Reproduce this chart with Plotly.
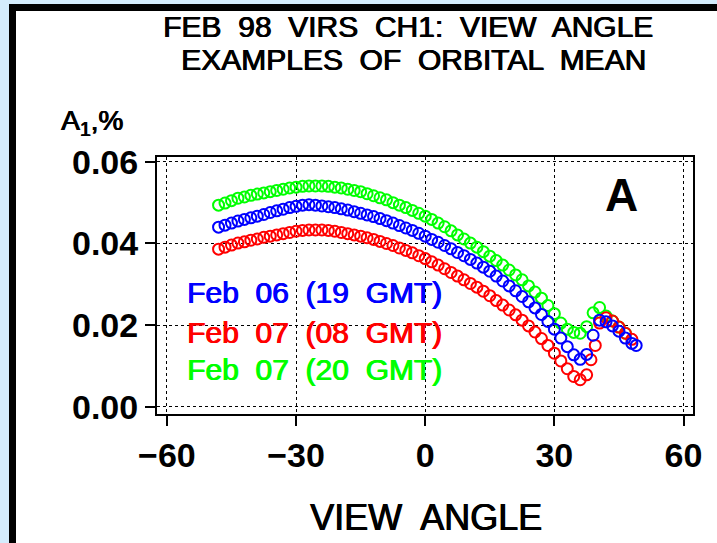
import plotly.graph_objects as go

# ---- data ----
angle_main = [-48, -46.5, -45, -43.5, -42, -40.5, -39, -37.5, -36, -34.5, -33, -31.5,
              -30, -28.5, -27, -25.5, -24, -22.5, -21, -19.5, -18, -16.5, -15, -13.5,
              -12, -10.5, -9, -7.5, -6, -4.5, -3, -1.5, 0, 1.5, 3, 4.5, 6, 7.5, 9, 10.5,
              12, 13.5, 15, 16.5, 18, 19.5, 21, 22.5, 24, 25.5, 27, 28.5, 30, 31.5, 33,
              34.5, 36]

green_main = [0.0494, 0.0499, 0.0505, 0.0511, 0.0514, 0.0518, 0.0521, 0.0524, 0.0527, 0.0530,
              0.0533, 0.0536, 0.0538, 0.0540, 0.0541, 0.0541, 0.0541, 0.0540, 0.0538, 0.0536,
              0.0533, 0.0530, 0.0527, 0.0522, 0.0517, 0.0512, 0.0507, 0.0500, 0.0494, 0.0488,
              0.0481, 0.0474, 0.0467, 0.0459, 0.0450, 0.0441, 0.0431, 0.0421, 0.0411, 0.0401,
              0.0391, 0.0380, 0.0369, 0.0358, 0.0347, 0.0335, 0.0323, 0.0311, 0.0296, 0.0281,
              0.0266, 0.0248, 0.0228, 0.0205, 0.0190, 0.0182, 0.0180]
green_tail_angle = [37.5, 39, 40.5, 42, 43.5, 45, 46.5]
green_tail = [0.0196, 0.0230, 0.0243, 0.0222, 0.0210, 0.0195, 0.0180]

blue_main = [0.0440, 0.0445, 0.0450, 0.0455, 0.0459, 0.0463, 0.0467, 0.0471, 0.0476, 0.0480,
             0.0484, 0.0488, 0.0491, 0.0494, 0.0495, 0.0494, 0.0492, 0.0490, 0.0488, 0.0485,
             0.0482, 0.0478, 0.0474, 0.0470, 0.0466, 0.0461, 0.0456, 0.0450, 0.0444, 0.0438,
             0.0432, 0.0425, 0.0418, 0.0410, 0.0403, 0.0395, 0.0387, 0.0378, 0.0370, 0.0361,
             0.0352, 0.0342, 0.0332, 0.0320, 0.0308, 0.0296, 0.0284, 0.0270, 0.0257, 0.0242,
             0.0226, 0.0209, 0.0190, 0.0168, 0.0147, 0.0127, 0.0116]
blue_tail_angle = [37.5, 39, 40.5, 42, 43.5, 45, 46.5, 48, 49]
blue_tail = [0.0128, 0.0175, 0.0212, 0.0208, 0.0198, 0.0185, 0.0168, 0.0155, 0.0150]

red_main = [0.0386, 0.0391, 0.0396, 0.0401, 0.0404, 0.0408, 0.0411, 0.0415, 0.0418, 0.0421,
            0.0424, 0.0427, 0.0430, 0.0432, 0.0433, 0.0433, 0.0433, 0.0432, 0.0430, 0.0427,
            0.0424, 0.0421, 0.0418, 0.0414, 0.0410, 0.0405, 0.0400, 0.0395, 0.0389, 0.0383,
            0.0377, 0.0370, 0.0363, 0.0355, 0.0347, 0.0338, 0.0329, 0.0320, 0.0311, 0.0302,
            0.0293, 0.0283, 0.0272, 0.0260, 0.0249, 0.0237, 0.0225, 0.0212, 0.0198, 0.0183,
            0.0167, 0.0150, 0.0131, 0.0112, 0.0093, 0.0074, 0.0066]
red_tail_angle = [37.5, 38.5, 39.5, 40.5, 42, 43.5, 45, 46.5, 48]
red_tail = [0.0078, 0.0115, 0.0150, 0.0205, 0.0218, 0.0210, 0.0195, 0.0180, 0.0165]

series_names = ["Feb  06  (19  GMT)", "Feb  07  (08  GMT)", "Feb  07  (20  GMT)"]
series_colors = ["#0000ff", "#ff0000", "#00ff00"]
legend_y = [0.0279, 0.0183, 0.0090]

x_ticks = [-60, -30, 0, 30, 60]
x_ticktext = ["\u221260", "\u221230", "0", "30", "60"]
y_ticks = [0.00, 0.02, 0.04, 0.06]
y_ticktext = ["0.00", "0.02", "0.04", "0.06"]

title_lines = ["FEB  98  VIRS  CH1:  VIEW  ANGLE", "EXAMPLES  OF  ORBITAL  MEAN"]

# ---- figure ----
fig = go.Figure()

draw = [
    (angle_main + green_tail_angle, green_main + green_tail, series_colors[2], series_names[2]),
    (angle_main + red_tail_angle, red_main + red_tail, series_colors[1], series_names[1]),
    (angle_main + blue_tail_angle, blue_main + blue_tail, series_colors[0], series_names[0]),
]
for xs, ys, col, nm in draw:
    fig.add_trace(go.Scatter(
        x=xs, y=ys, mode="markers", name=nm, showlegend=False,
        marker=dict(symbol="circle-open", size=11, color=col, line=dict(width=2, color=col)),
    ))

W, H = 717, 543
L, R, T, B = 157, 24, 157, 129
pw, ph = W - L - R, H - T - B

def px2paperx(px):
    return (px - L) / pw

def py2papery(py):
    return (H - B - py) / ph

font_main = "Liberation Sans, Arial, sans-serif"

def heavy(col):
    return "0.7px 0 0 %s, -0.3px 0 0 %s" % (col, col)

axis_common = dict(
    showline=True, linecolor="black", linewidth=2, mirror=True,
    ticks="outside", ticklen=10, tickwidth=2, tickcolor="black",
    showgrid=True, gridcolor="black", gridwidth=1, griddash="dot",
    zeroline=False,
    tickfont=dict(family=font_main, size=34, color="black", weight="bold"),
)

fig.update_xaxes(range=[-62.3, 62.2], tickvals=x_ticks, ticktext=x_ticktext, **axis_common)
fig.update_yaxes(range=[-0.0018, 0.0612], tickvals=y_ticks, ticktext=y_ticktext, **axis_common)

annotations = [
    dict(text=title_lines[0], x=px2paperx(408), y=py2papery(26), xref="paper", yref="paper",
         showarrow=False, xanchor="center", yanchor="middle",
         font=dict(family=font_main, size=30, color="black", shadow=heavy("black"))),
    dict(text=title_lines[1], x=px2paperx(413), y=py2papery(59), xref="paper", yref="paper",
         showarrow=False, xanchor="center", yanchor="middle",
         font=dict(family=font_main, size=30, color="black", shadow=heavy("black"))),
    dict(text="A<sub>1</sub>,%", x=px2paperx(59), y=py2papery(122), xref="paper", yref="paper",
         showarrow=False, xanchor="left", yanchor="middle",
         font=dict(family=font_main, size=28, color="black", shadow=heavy("black"))),
    dict(text="VIEW  ANGLE", x=px2paperx(426), y=py2papery(517), xref="paper", yref="paper",
         showarrow=False, xanchor="center", yanchor="middle",
         font=dict(family=font_main, size=36, color="black", shadow=heavy("black"))),
    dict(text="<b>A</b>", x=45.7, y=0.0519, xref="x", yref="y",
         showarrow=False, xanchor="center", yanchor="middle",
         font=dict(family=font_main, size=46, color="black")),
]
for nm, col, ly in zip(series_names, series_colors, legend_y):
    annotations.append(dict(text=nm, x=-55.9, y=ly, xref="x", yref="y", showarrow=False,
                            xanchor="left", yanchor="middle",
                            font=dict(family=font_main, size=30, color=col, shadow=heavy(col))))

shapes = [
    dict(type="rect", xref="paper", yref="paper",
         x0=px2paperx(12.5), x1=px2paperx(780), y0=py2papery(620), y1=py2papery(7.5),
         line=dict(color="black", width=7), fillcolor="white", layer="below"),
]

fig.update_layout(
    width=W, height=H,
    margin=dict(l=L, r=R, t=T, b=B, pad=0),
    paper_bgcolor="#d4ecfc", plot_bgcolor="rgba(0,0,0,0)",
    annotations=annotations, shapes=shapes, showlegend=False,
)

fig.write_html("out.html", config={"displayModeBar": False},
               post_script="document.body.style.margin='0px';document.body.style.overflow='hidden';")
